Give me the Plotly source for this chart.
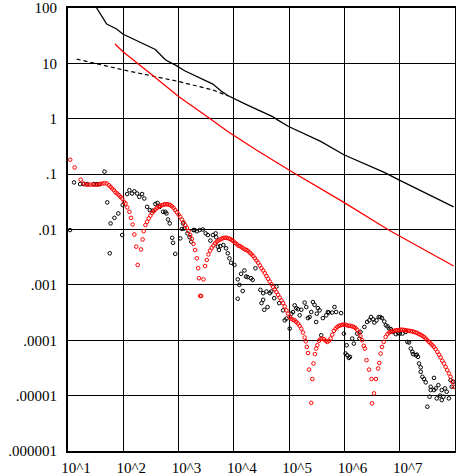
import plotly.graph_objects as go

# ---- data (stored as decade exponents log10) ----
# solid black line
blk_line_lx = [1.45, 1.518, 1.70, 1.88, 1.99, 2.18, 2.58, 2.76, 2.96, 3.11, 3.62, 3.77, 3.89, 4.20, 4.70, 4.79, 4.99, 5.57, 5.99, 6.72, 6.985, 7.975]
blk_line_ly = [2.12, 2.0, 1.71, 1.62, 1.53, 1.44, 1.25, 1.065, 0.96, 0.866, 0.626, 0.50, 0.42, 0.27, 0.04, -0.02, -0.14, -0.41, -0.65, -0.97, -1.105, -1.59]

# dashed black line
dash_line_lx = [1.157, 1.99, 2.998, 3.62, 3.90]
dash_line_ly = [1.078, 0.884, 0.673, 0.52, 0.41]

# red line
red_line_lx = [1.85, 1.99, 2.50, 3.00, 3.56, 3.89, 4.40, 4.99, 5.99, 6.80, 7.975]
red_line_ly = [1.35, 1.215, 0.81, 0.40, 0.01, -0.23, -0.56, -0.92, -1.51, -2.01, -2.66]

# red open-circle series
red_pts_lx = [1.04, 1.12, 1.23, 1.28, 1.32, 1.37, 1.41, 1.46, 1.50, 1.54, 1.58, 1.62, 1.66, 1.70, 1.74, 1.77,
              1.80, 1.83, 1.86, 1.89, 1.92, 1.95, 1.98, 2.01, 2.04, 2.07, 2.11, 2.14, 2.17, 2.20, 2.235, 2.26,
              2.32, 2.35, 2.37, 2.40, 2.43, 2.46, 2.49, 2.52, 2.55, 2.58, 2.61, 2.64, 2.67, 2.70, 2.73, 2.76,
              2.79, 2.82, 2.85, 2.88, 2.91, 2.94, 2.97, 3.00, 3.03, 3.06, 3.09, 3.12, 3.15, 3.18, 3.21, 3.24,
              3.27, 3.30, 3.33, 3.355, 3.37, 3.39, 3.41, 3.45, 3.48, 3.51, 3.54, 3.57, 3.60, 3.63, 3.66, 3.69,
              3.72, 3.75, 3.78, 3.81, 3.84, 3.87, 3.90, 3.93, 3.96, 3.99, 4.02, 4.05, 4.08, 4.11, 4.14, 4.17,
              4.20, 4.23, 4.26, 4.29, 4.32, 4.35, 4.38, 4.41, 4.44, 4.47, 4.50, 4.53, 4.56, 4.59, 4.62, 4.65,
              4.68, 4.71, 4.74, 4.77, 4.80, 4.83, 4.86, 4.89, 4.92, 4.95, 4.98, 5.01, 5.04, 5.07, 5.10, 5.13,
              5.16, 5.19, 5.22, 5.25, 5.28, 5.30, 5.32, 5.34, 5.36, 5.40, 5.42, 5.44, 5.465, 5.49, 5.51, 5.54,
              5.57, 5.60, 5.63, 5.66, 5.69, 5.72, 5.75, 5.78, 5.81, 5.84, 5.87, 5.90, 5.93, 5.96, 5.99, 6.02,
              6.05, 6.08, 6.11, 6.14, 6.17, 6.20, 6.23, 6.26, 6.29, 6.32, 6.35, 6.37, 6.40, 6.445, 6.49, 6.50,
              6.535, 6.57, 6.61, 6.63, 6.655, 6.68, 6.71, 6.745, 6.78, 6.81, 6.84, 6.87, 6.90, 6.93, 6.96, 6.99,
              7.02, 7.05, 7.08, 7.11, 7.14, 7.17, 7.20, 7.23, 7.26, 7.29, 7.32, 7.35, 7.38, 7.41, 7.44, 7.47,
              7.50, 7.53, 7.56, 7.59, 7.62, 7.65, 7.68, 7.71, 7.74, 7.77, 7.80, 7.83, 7.86, 7.89, 7.92, 7.95, 7.975]
red_pts_ly = [-0.74, -0.88, -1.10, -1.17, -1.19, -1.19, -1.19, -1.19, -1.19, -1.19, -1.18, -1.17, -1.165, -1.17, -1.20, -1.23,
              -1.26, -1.29, -1.33, -1.35, -1.38, -1.41, -1.44, -1.50, -1.53, -1.60, -1.68, -1.79, -1.91, -2.09, -2.31, -2.64,
              -2.36, -2.18, -2.03, -1.92, -1.86, -1.80, -1.75, -1.70, -1.67, -1.64, -1.61, -1.59, -1.575, -1.56, -1.55, -1.545,
              -1.545, -1.55, -1.56, -1.58, -1.61, -1.65, -1.69, -1.73, -1.77, -1.82, -1.87, -1.92, -1.97, -2.03, -2.10, -2.17,
              -2.26, -2.37, -2.52, -2.70, -2.88, -3.20, -3.20, -2.90, -2.66, -2.55, -2.45, -2.38, -2.33, -2.29, -2.25, -2.22,
              -2.20, -2.18, -2.165, -2.155, -2.15, -2.15, -2.16, -2.17, -2.19, -2.21, -2.24, -2.26, -2.29, -2.30, -2.32, -2.34,
              -2.36, -2.37, -2.39, -2.42, -2.45, -2.48, -2.52, -2.56, -2.60, -2.65, -2.70, -2.74, -2.79, -2.84, -2.89, -2.94,
              -2.99, -3.04, -3.08, -3.13, -3.18, -3.23, -3.28, -3.33, -3.39, -3.46, -3.52, -3.58, -3.61, -3.63, -3.64, -3.67,
              -3.70, -3.74, -3.79, -3.86, -3.95, -4.02, -4.12, -4.23, -4.53, -5.13, -4.70, -4.42, -4.25, -4.15, -4.09, -4.01,
              -3.98, -3.97, -3.98, -4.01, -4.03, -4.01, -3.97, -3.90, -3.83, -3.79, -3.76, -3.74, -3.73, -3.72, -3.72, -3.72,
              -3.73, -3.74, -3.74, -3.75, -3.76, -3.78, -3.81, -3.86, -3.93, -4.00, -4.10, -4.15, -4.36, -4.53, -4.70, -5.14,
              -4.96, -4.70, -4.51, -4.41, -4.24, -4.12, -4.03, -3.94, -3.89, -3.86, -3.85, -3.84, -3.83, -3.82, -3.82, -3.815,
              -3.81, -3.81, -3.815, -3.82, -3.825, -3.83, -3.835, -3.84, -3.85, -3.86, -3.87, -3.89, -3.90, -3.92, -3.94, -3.97,
              -4.00, -4.03, -4.06, -4.09, -4.12, -4.16, -4.21, -4.26, -4.31, -4.37, -4.42, -4.48, -4.54, -4.60, -4.66, -4.75, -4.84]

# black open-circle series
blk_pts_lx = [1.036, 1.11, 1.22, 1.28, 1.35, 1.47, 1.52, 1.57, 1.66, 1.71, 1.755, 1.77, 1.84, 1.91, 1.98, 1.99,
              2.07, 2.11, 2.16, 2.20, 2.25, 2.29, 2.34, 2.38, 2.43, 2.48, 2.53, 2.58, 2.62, 2.66, 2.72, 2.76,
              2.78, 2.81, 2.84, 2.885, 2.90, 2.94, 3.03, 3.06, 3.08, 3.105, 3.16, 3.20, 3.23, 3.27, 3.29, 3.33,
              3.38, 3.44, 3.49, 3.53, 3.575, 3.62, 3.67, 3.68, 3.71, 3.73, 3.755, 3.81, 3.86, 3.89, 3.92, 3.95,
              4.01, 4.07, 4.07, 4.10, 4.13, 4.16, 4.19, 4.22, 4.25, 4.31, 4.34, 4.39, 4.48, 4.50, 4.53, 4.53,
              4.55, 4.59, 4.61, 4.65, 4.675, 4.73, 4.77, 4.82, 4.89, 4.92, 4.95, 5.01, 5.04, 5.07, 5.10, 5.13,
              5.16, 5.19, 5.22, 5.28, 5.31, 5.34, 5.37, 5.40, 5.43, 5.46, 5.49, 5.50, 5.52, 5.55, 5.58, 5.61,
              5.67, 5.70, 5.72, 5.78, 5.82, 5.85, 5.94, 5.99, 6.02, 6.04, 6.05, 6.08, 6.10, 6.14, 6.17, 6.23,
              6.27, 6.29, 6.36, 6.41, 6.45, 6.48, 6.52, 6.54, 6.58, 6.62, 6.65, 6.68, 6.72, 6.75, 6.78, 6.81,
              6.84, 6.87, 6.93, 6.97, 7.00, 7.05, 7.11, 7.14, 7.17, 7.20, 7.23, 7.24, 7.29, 7.31, 7.33, 7.35,
              7.38, 7.38, 7.41, 7.44, 7.47, 7.50, 7.54, 7.56, 7.56, 7.62, 7.62, 7.65, 7.67, 7.70, 7.73, 7.76,
              7.76, 7.79, 7.82, 7.85, 7.89, 7.92, 7.94, 7.97]
blk_pts_ly = [-2.01, -1.15, -1.18, -1.18, -1.18, -1.18, -1.18, -1.18, -0.955, -1.51, -2.43, -1.89, -1.79, -1.71, -2.10, -1.56,
              -1.36, -1.29, -1.35, -1.31, -1.35, -1.41, -1.36, -1.44, -1.59, -1.65, -1.66, -1.54, -1.52, -1.59, -1.68, -1.68,
              -1.71, -1.82, -1.89, -2.15, -2.24, -2.44, -2.16, -1.99, -1.89, -1.98, -2.07, -2.14, -2.22, -2.01, -2.01, -2.03,
              -2.01, -2.00, -2.07, -2.10, -2.20, -2.10, -2.07, -2.14, -2.31, -2.37, -2.30, -2.28, -2.34, -2.43, -2.52, -2.60,
              -2.64, -2.90, -3.25, -3.00, -2.80, -3.11, -2.74, -2.85, -2.86, -2.88, -2.91, -2.70, -3.09, -3.33, -3.15, -3.27,
              -3.45, -3.12, -3.40, -3.15, -3.12, -3.24, -3.03, -3.33, -3.46, -3.64, -3.61, -3.79, -3.52, -3.49, -3.37, -3.42,
              -3.44, -3.55, -3.45, -3.32, -3.40, -3.60, -3.58, -3.49, -3.31, -3.36, -3.67, -3.52, -3.42, -3.46, -3.91, -3.60,
              -3.55, -3.49, -3.50, -3.50, -3.40, -3.49, -3.51, -3.88, -4.24, -4.09, -4.27, -4.32, -4.30, -3.97, -4.06, -3.88,
              -3.97, -3.85, -3.76, -3.67, -3.64, -3.58, -3.62, -3.68, -3.64, -3.58, -3.58, -3.60, -3.66, -3.73, -3.75, -3.79,
              -3.80, -3.85, -3.89, -3.87, -3.88, -3.88, -3.85, -4.03, -4.04, -4.15, -4.21, -4.25, -4.27, -4.26, -4.30, -4.42,
              -4.49, -4.57, -4.66, -4.70, -4.76, -5.20, -5.02, -4.90, -4.84, -4.68, -4.90, -4.87, -5.05, -4.81, -5.00, -5.08,
              -4.90, -5.02, -4.87, -4.93, -5.05, -4.72, -4.84, -4.75]

# tick labels
x_tick_exp = [1, 2, 3, 4, 5, 6, 7]
x_tick_text = ["10^1", "10^2", "10^3", "10^4", "10^5", "10^6", "10^7"]
y_tick_exp = [-6, -5, -4, -3, -2, -1, 0, 1, 2]
y_tick_text = [".000001", ".00001", ".0001", ".001", ".01", ".1", "1", "10", "100"]


def pw(v):
    return [10 ** e for e in v]


fig = go.Figure()
fig.add_trace(go.Scatter(x=pw(blk_pts_lx), y=pw(blk_pts_ly), mode="markers",
                         marker=dict(symbol="circle-open", size=3.6, color="black", line=dict(width=1.0, color="black"))))
fig.add_trace(go.Scatter(x=pw(red_pts_lx), y=pw(red_pts_ly), mode="markers",
                         marker=dict(symbol="circle-open", size=3.6, color="red", line=dict(width=1.0, color="red"))))
fig.add_trace(go.Scatter(x=pw(blk_line_lx), y=pw(blk_line_ly), mode="lines",
                         line=dict(color="black", width=1.3)))
fig.add_trace(go.Scatter(x=pw(dash_line_lx), y=pw(dash_line_ly), mode="lines",
                         line=dict(color="black", width=1.2, dash="4px,3px")))
fig.add_trace(go.Scatter(x=pw(red_line_lx), y=pw(red_line_ly), mode="lines",
                         line=dict(color="red", width=1.3)))

fig.update_layout(
    width=456, height=476,
    margin=dict(l=68, r=1, t=8, b=25, pad=0, autoexpand=False),
    plot_bgcolor="white", paper_bgcolor="white",
    showlegend=False,
    font=dict(family="Liberation Serif", size=15, color="black"),
)
fig.update_xaxes(type="log", range=[1, 8], tickvals=pw(x_tick_exp), ticktext=x_tick_text,
                 showgrid=True, gridcolor="black", gridwidth=1.4, zeroline=False,
                 showline=True, linecolor="black", linewidth=2, mirror=True, ticks="",
                 ticklabelshift=8, ticklabelstandoff=2, automargin=False)
fig.update_yaxes(type="log", range=[-6, 2], tickvals=pw(y_tick_exp), ticktext=y_tick_text,
                 showgrid=True, gridcolor="black", gridwidth=1.4, zeroline=False,
                 showline=True, linecolor="black", linewidth=2, mirror=True, ticks="",
                 ticklabelstandoff=6, automargin=False)

fig.write_html("out.html", config={"displayModeBar": False},
               post_script="document.body.style.margin='0';document.body.style.padding='0';")
